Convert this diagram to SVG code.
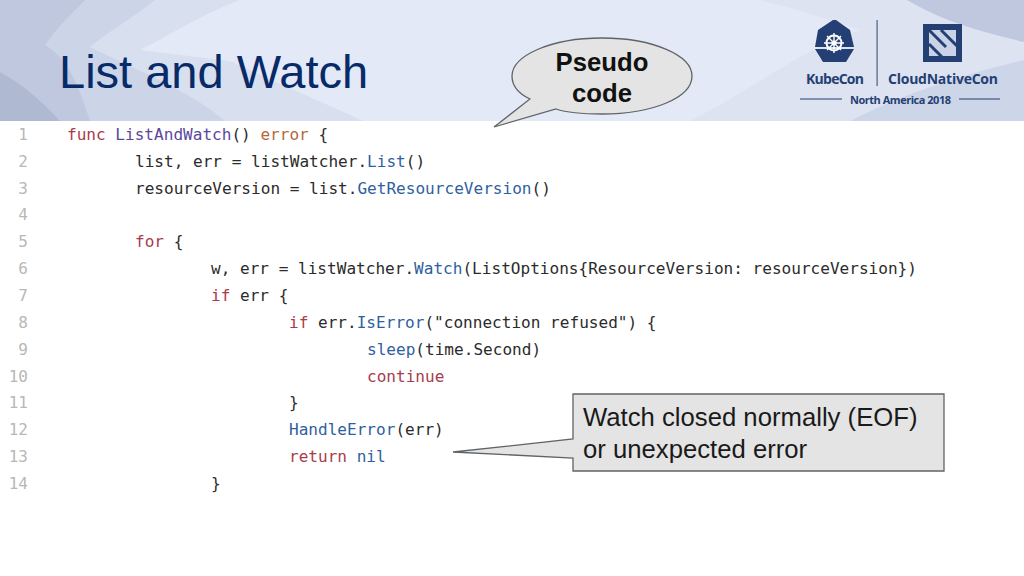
<svg xmlns="http://www.w3.org/2000/svg" width="1024" height="576" viewBox="0 0 1024 576">
<style>
.code{font-family:"DejaVu Sans Mono","Liberation Mono",monospace;font-size:16.07px;fill:#2b2b2b}
.ln{font-family:"DejaVu Sans Mono","Liberation Mono",monospace;font-size:16px;fill:#b8b8b8;text-anchor:end}
.k{fill:#a83c4c}.f{fill:#2f5f9e}.d{fill:#5b479c}.t{fill:#b5683c}
.logo{font-family:"Open Sans","Noto Sans",sans-serif;font-weight:700;fill:#243f73}
.call{fill:#e4e4e4;stroke:#5f6468;stroke-width:1.3}
.lbl{font-family:"Liberation Sans",Arial,sans-serif;font-size:25.7px;fill:#1a1a1a}
</style>
<g id="background">
<rect width="1024" height="121" fill="#e3e9f6"/>
<path d="M760 0H1024V121H690C760 85 800 50 860 30C830 20 800 10 760 0Z" fill="#dde3f1"/>
<path d="M0 0H240C200 15 170 35 140 50C180 55 210 58 233 62C280 85 330 105 363 121H0Z" fill="#d8dfef"/>
<path d="M0 0H155C130 20 110 30 90 47C125 65 190 90 225 121H0Z" fill="#ccd4e8"/>
<path d="M0 0H85C70 15 55 30 45 45C70 60 80 90 90 121H0Z" fill="#bfc8de"/>
<path d="M0 72C25 85 45 105 60 121H0Z" fill="#b0b9d2"/>
<path d="M1024 60C960 75 900 95 850 121H1024Z" fill="#cdd5e8"/>
<path d="M907 0H1024V42C980 32 940 20 907 0Z" fill="#bfc8de"/>
<rect y="121" width="1024" height="455" fill="#fff"/>
</g>
<text id="title" x="59" y="88" font-family="Liberation Sans,Arial,sans-serif" font-size="47" fill="#072a68">List and Watch</text>
<g id="logo">
<path d="M833 20L818 30L815 47L854 47L850 30L836 20Z" fill="#243f73"/>
<path d="M815 49L854 49L846 62L823 62Z" fill="#243f73"/>
<circle cx="834" cy="43" r="7.5" fill="none" stroke="#fff" stroke-width="2"/>
<path d="M834 33V53M824 43H844M827 36L841 50M841 36L827 50" stroke="#fff" stroke-width="1.4"/>
<circle cx="834" cy="43" r="2.500" fill="#fff"/>
<rect x="876.500" y="20" width="1.2" height="66" fill="#4a5f88"/>
<rect x="926" y="27" width="33" height="32" fill="#c9d2e6" stroke="#243f73" stroke-width="6"/>
<path d="M929 30L946 47M941 30L959 48M929 44L943 58" stroke="#243f73" stroke-width="3" fill="none"/>
<text class="logo" x="806" y="84" font-size="14" textLength="58">KubeCon</text>
<text class="logo" x="888" y="84" font-size="14" textLength="110">CloudNativeCon</text>
<text class="logo" x="850" y="104" font-size="11" textLength="101">North America 2018</text>
<path d="M800 99H842M959 99H1000" stroke="#243f73" stroke-width="1.2"/>
</g>
<g id="code">
<g id="line-numbers">
<text class="ln" x="28" y="140">1</text><text class="ln" x="28" y="167">2</text><text class="ln" x="28" y="194">3</text><text class="ln" x="28" y="220">4</text><text class="ln" x="28" y="247">5</text><text class="ln" x="28" y="274">6</text><text class="ln" x="28" y="301">7</text><text class="ln" x="28" y="328">8</text><text class="ln" x="28" y="355">9</text><text class="ln" x="28" y="382">10</text><text class="ln" x="28" y="408">11</text><text class="ln" x="28" y="435">12</text><text class="ln" x="28" y="462">13</text><text class="ln" x="28" y="489">14</text>
</g>
<text class="code" x="67" y="140" xml:space="preserve"><tspan class="k">func</tspan> <tspan class="d">ListAndWatch</tspan>() <tspan class="t">error</tspan> {</text>
<text class="code" x="135" y="167">list, err = listWatcher.<tspan class="f">List</tspan>()</text>
<text class="code" x="135" y="194">resourceVersion = list.<tspan class="f">GetResourceVersion</tspan>()</text>
<text class="code" x="135" y="247"><tspan class="k">for</tspan> {</text>
<text class="code" x="211" y="274">w, err = listWatcher.<tspan class="f">Watch</tspan>(ListOptions{ResourceVersion: resourceVersion})</text>
<text class="code" x="211" y="301"><tspan class="k">if</tspan> err {</text>
<text class="code" x="289" y="328"><tspan class="k">if</tspan> err.<tspan class="f">IsError</tspan>("connection refused") {</text>
<text class="code" x="367" y="355"><tspan class="f">sleep</tspan>(time.Second)</text>
<text class="code k" x="367" y="382">continue</text>
<text class="code" x="289" y="408">}</text>
<text class="code" x="289" y="435"><tspan class="f">HandleError</tspan>(err)</text>
<text class="code" x="289" y="462"><tspan class="k">return</tspan> <tspan class="f">nil</tspan></text>
<text class="code" x="211" y="489">}</text>
</g>
<g id="callout-pseudo">
<path class="call" d="M494 127L530 99C515 92 512 82 512 76C512 56 550 38 602 38C652 38 692 55 692 76C692 98 652 114 602 114C580 114 565 112 556 109Z"/>
<text class="lbl" x="602" y="71" text-anchor="middle" font-weight="700" style="fill:#111">Pseudo</text>
<text class="lbl" x="602" y="102" text-anchor="middle" font-weight="700" style="fill:#111">code</text>
</g>
<g id="callout-watch">
<path class="call" d="M573 394H944V471H573V458L453 452L573 439Z"/>
<text class="lbl" x="583" y="426">Watch closed normally (EOF)</text>
<text class="lbl" x="583" y="458">or unexpected error</text>
</g>
</svg>
